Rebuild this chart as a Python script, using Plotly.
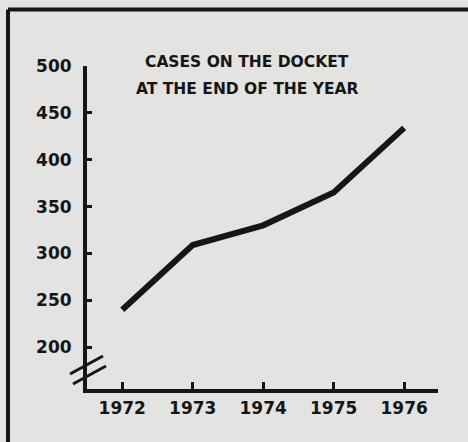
import plotly.graph_objects as go

# Data
years = [1972, 1973, 1974, 1975, 1976]
cases = [240, 309, 330, 365, 434]
y_ticks = [200, 250, 300, 350, 400, 450, 500]
x_tick_labels = ["1972", "1973", "1974", "1975", "1976"]
title_lines = ["CASES ON THE DOCKET", "AT THE END OF THE YEAR"]

W, H = 468, 442
ML, MR, MT, MB = 87, 30, 66, 53
PW, PH = W - ML - MR, H - MT - MB

def px_x(px):
    return (px - ML) / PW

def px_y(py):
    return (H - MB - py) / PH

ink = "#161616"
bg = "#e3e3e1"

fig = go.Figure()
fig.add_trace(go.Scatter(
    x=years, y=cases, mode="lines",
    line=dict(color=ink, width=6),
    hoverinfo="skip", showlegend=False,
))

shapes = []
# frame (left and top edges visible)
shapes.append(dict(type="line", xref="paper", yref="paper",
                   x0=px_x(8), x1=px_x(470), y0=px_y(9.5), y1=px_y(9.5),
                   line=dict(color=ink, width=4)))
shapes.append(dict(type="line", xref="paper", yref="paper",
                   x0=px_x(8), x1=px_x(8), y0=px_y(9.5), y1=px_y(450),
                   line=dict(color=ink, width=4)))
# axis break marks
for (x0, y0, x1, y1) in [(70, 374, 103, 356), (73, 384, 106, 366)]:
    shapes.append(dict(type="line", xref="paper", yref="paper",
                       x0=px_x(x0), y0=px_y(y0), x1=px_x(x1), y1=px_y(y1),
                       line=dict(color=ink, width=3)))

annotations = []
for line_text, py in zip(title_lines, [62, 89]):
    annotations.append(dict(
        text=line_text, xref="paper", yref="paper",
        x=px_x(247), y=px_y(py), xanchor="center", yanchor="middle",
        showarrow=False, align="center",
        font=dict(family="DejaVu Sans", size=15.5, color=ink, weight="bold"),
    ))

fig.update_layout(
    width=W, height=H,
    margin=dict(l=ML, r=MR, t=MT, b=MB),
    paper_bgcolor=bg, plot_bgcolor=bg,
    shapes=shapes,
    font=dict(family="DejaVu Sans", color=ink),
    annotations=annotations,
)
fig.update_xaxes(
    range=[1971.5, 1976.48], showgrid=False, zeroline=False,
    showline=True, linewidth=4, linecolor=ink,
    tickvals=years, ticktext=x_tick_labels,
    ticks="inside", ticklen=7, tickwidth=2.5, tickcolor=ink,
    tickfont=dict(family="DejaVu Sans", size=17, color=ink, weight="bold"),
    ticklabelstandoff=1,
)
fig.update_yaxes(
    range=[155.4, 500], showgrid=False, zeroline=False,
    showline=True, linewidth=4, linecolor=ink,
    tickvals=y_ticks, ticktext=[str(v) for v in y_ticks],
    ticks="inside", ticklen=5, tickwidth=3, tickcolor=ink,
    tickfont=dict(family="DejaVu Sans", size=17, color=ink, weight="bold"),
    ticklabelstandoff=8,
)

fig.write_html(
    "out.html",
    config={"displayModeBar": False},
    post_script="document.body.style.margin='0';document.body.style.background='%s';" % bg,
)
